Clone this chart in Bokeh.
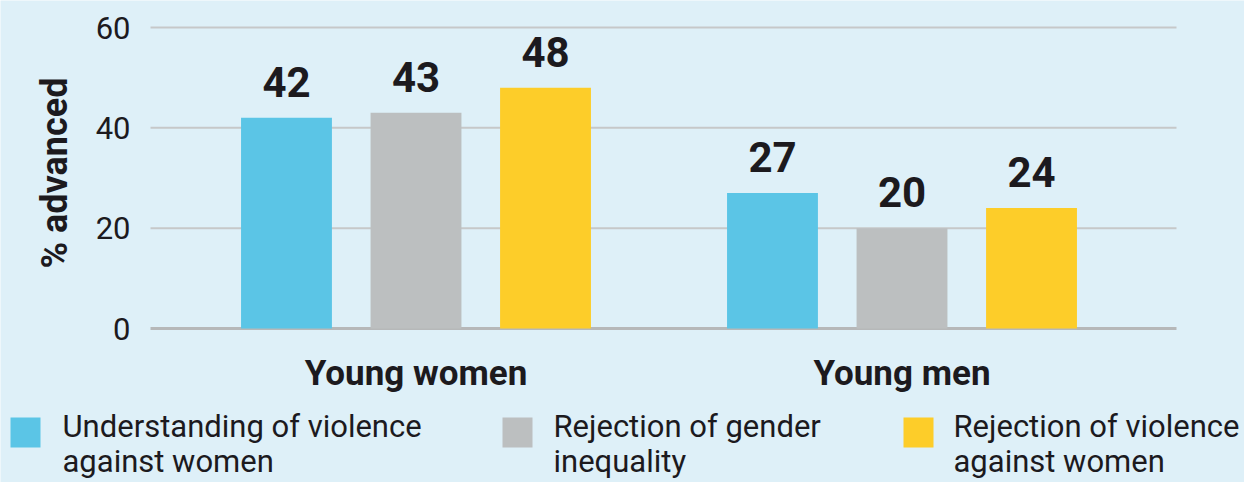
from bokeh.plotting import figure
from bokeh.models import (ColumnDataSource, FixedTicker, CustomJSTickFormatter,
                          Range1d, LabelSet)
from bokeh.core.properties import value
from bokeh.embed import file_html
from bokeh.resources import INLINE

# ---- data ----
groups = ["Young women", "Young men"]
series = ["Understanding of violence\nagainst women",
          "Rejection of gender\ninequality",
          "Rejection of violence\nagainst women"]
colors = ["#5BC5E6", "#BCBFC0", "#FDCD29"]
understanding = [42, 27]
rejection_gender = [43, 20]
rejection_violence = [48, 24]
y_ticks = [0, 20, 40, 60]

BG = "#DEF0F8"
TXT = "#1C1A1E"
FONT = "Roboto"

W, H = 1244, 482
# plot region in pixels: x 150..1176, value 60 at y=27, 0 at y=328
PX_PER_Y = (328 - 27) / 60.0
PX_PER_X = 486.0
X0_PX = 415.5
x_lo = -X0_PX / PX_PER_X
x_hi = (W - X0_PX) / PX_PER_X
y_hi = 60 + 27 / PX_PER_Y
y_lo = -(H - 328) / PX_PER_Y
plot_left = (150 - X0_PX) / PX_PER_X
plot_right = (1176 - X0_PX) / PX_PER_X

p = figure(width=W, height=H, output_backend="svg", toolbar_location=None,
           x_range=Range1d(x_lo, x_hi), y_range=Range1d(y_lo, y_hi),
           min_border=0, min_border_left=0, min_border_right=0,
           min_border_top=0, min_border_bottom=0)
p.background_fill_color = BG
p.border_fill_color = BG
p.outline_line_color = None
p.grid.grid_line_color = None

# gridlines (0 line slightly heavier)
gl = ColumnDataSource(dict(x0=[plot_left] * len(y_ticks),
                           x1=[plot_right] * len(y_ticks),
                           y=y_ticks,
                           w=[3 if t == 0 else 2 for t in y_ticks],
                           c=["#B6B8B9" if t == 0 else "#C6C8C9" for t in y_ticks]))
p.segment(x0="x0", y0="y", x1="x1", y1="y", source=gl, line_width="w",
          line_color="c")

offsets = [-0.2665, 0.0, 0.2665]
values_all = [understanding, rejection_gender, rejection_violence]
for off, vals, col in zip(offsets, values_all, colors):
    xs = [i + off for i in range(len(groups))]
    src = ColumnDataSource(dict(x=xs, top=vals, lbl=[str(v) for v in vals]))
    p.vbar(x="x", top="top", width=0.187, bottom=0, source=src,
           fill_color=col, line_color=None)
    p.add_layout(LabelSet(x="x", y="top", text="lbl", source=src,
                          text_align="center", text_baseline="alphabetic",
                          y_offset=21, text_font=value(FONT),
                          text_font_style="bold", text_font_size="42px",
                          text_color=TXT))

# axes drawn inside the frame at fixed locations
xa, ya = p.xaxis[0], p.yaxis[0]
xa.fixed_location = 0
ya.fixed_location = plot_left
ya.bounds = (0, 62)
ya.ticker = FixedTicker(ticks=y_ticks)
xa.ticker = FixedTicker(ticks=list(range(len(groups))))
xa.formatter = CustomJSTickFormatter(args=dict(names=groups),
                                     code="return names[Math.round(tick)];")
for ax in (xa, ya):
    ax.axis_line_color = None
    ax.major_tick_line_color = None
    ax.minor_tick_line_color = None
    ax.major_label_text_color = TXT
    ax.major_label_text_font = FONT

xa.major_label_text_font_size = "35px"
xa.major_label_text_font_style = "bold"
xa.major_label_standoff = 18

ya.major_label_text_font_size = "31px"
ya.major_label_standoff = 14
ya.axis_label = "% advanced"
ya.axis_label_text_font = FONT
ya.axis_label_text_font_size = "36px"
ya.axis_label_text_font_style = "bold"
ya.axis_label_text_color = TXT
ya.axis_label_standoff = 17

# ---- legend, drawn in a pixel-unit range ----
p.extra_x_ranges = {"px": Range1d(0, W)}
p.extra_y_ranges = {"px": Range1d(H, 0)}
line1 = [s.split("\n")[0] for s in series]
line2 = [s.split("\n")[1] for s in series]
lsrc = ColumnDataSource(dict(sx=[25, 517, 918], tx=[62, 553, 953], c=colors,
                             l1=line1, l2=line2))
p.rect(x="sx", y=432, width=30, height=30, source=lsrc, fill_color="c",
       line_color=None, x_range_name="px", y_range_name="px")
p.text(x="tx", y=426, text="l1", source=lsrc, text_align="left",
       text_baseline="alphabetic", text_font=value(FONT), text_font_size="31px",
       text_color=TXT, x_range_name="px", y_range_name="px")
p.text(x="tx", y=461, text="l2", source=lsrc, text_align="left",
       text_baseline="alphabetic", text_font=value(FONT), text_font_size="31px",
       text_color=TXT, x_range_name="px", y_range_name="px")

html = file_html(p, INLINE)
html = html.replace("<body>", '<body style="background-color:%s">' % BG, 1)
open("out.html", "w").write(html)
